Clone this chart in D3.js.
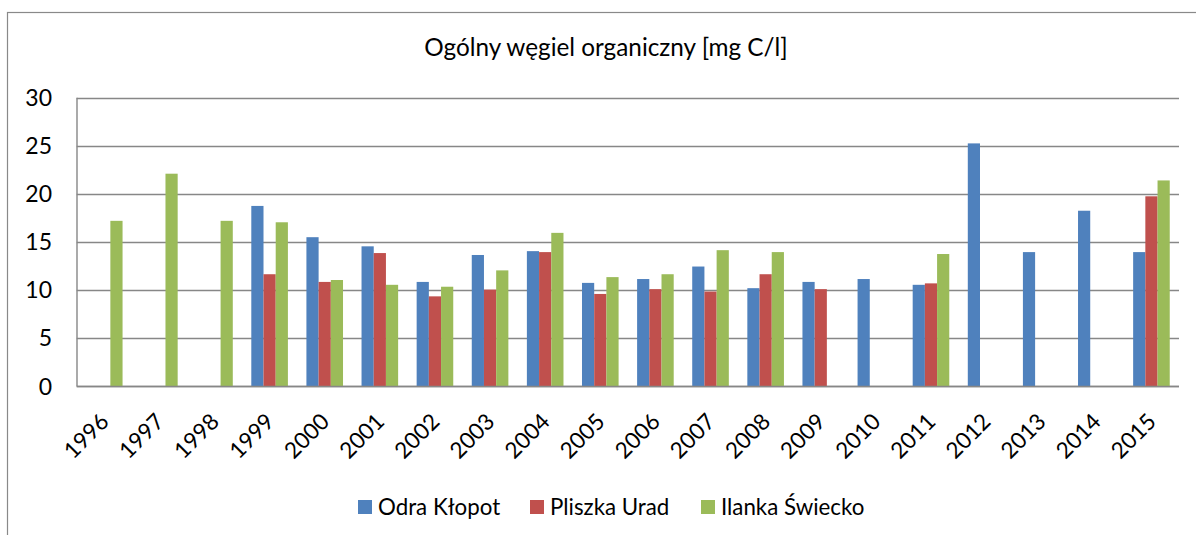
<!DOCTYPE html>
<html><head><meta charset="utf-8">
<script src="https://cdn.jsdelivr.net/npm/d3@7"></script>
<style>body{margin:0;background:#fff}svg{display:block}text{font-family:Lato,"Open Sans",sans-serif;fill:#000}</style>
</head><body><svg id="c" width="1196" height="535"></svg>
<script>
const years = ["1996","1997","1998","1999","2000","2001","2002","2003","2004","2005","2006","2007","2008","2009","2010","2011","2012","2013","2014","2015"];
const seriesNames = ["Odra Kłopot","Pliszka Urad","Ilanka Świecko"];
const odraKlopot = [null,null,null,18.75,15.5,14.55,10.85,13.65,14.05,10.75,11.15,12.45,10.2,10.85,11.15,10.55,25.25,13.95,18.25,13.95];
const pliszkaUrad = [null,null,null,11.65,10.85,13.85,9.35,10.05,13.95,9.6,10.1,9.85,11.65,10.1,null,10.7,null,null,null,19.75];
const ilankaSwiecko = [17.2,22.1,17.2,17.05,11.05,10.55,10.35,12.05,15.95,11.35,11.65,14.15,13.95,null,null,13.75,null,null,null,21.4];
const yTicks = [0,5,10,15,20,25,30];
const title = "Ogólny węgiel organiczny [mg C/l]";
const colors = ["#4F81BD","#C0504D","#9BBB59"];
const seriesData = [odraKlopot, pliszkaUrad, ilankaSwiecko];

const svg = d3.select("#c");
svg.append("rect").attr("x",7.5).attr("y",12.5).attr("width",1300).attr("height",700)
  .attr("fill","none").attr("stroke","#898989").attr("stroke-width",1.2);

const x0 = d3.scaleBand().domain(years).range([76.7,1179]).padding(0);
const groupW = 36.6;
const x1 = d3.scaleBand().domain(seriesNames).range([0,groupW]).padding(0);
const y = d3.scaleLinear().domain([0,30]).range([386.3,97.7]);

svg.append("text").attr("x",606).attr("y",56).attr("text-anchor","middle")
  .style("font-size","24.3px").text(title);

// gridlines
const g = svg.append("g");
g.selectAll("line.grid").data(yTicks).join("line")
  .attr("x1",76.7).attr("x2",1179).attr("y1",d=>Math.round(y(d))+0.5).attr("y2",d=>Math.round(y(d))+0.5)
  .attr("stroke","#878787").attr("stroke-width",1.4);
g.append("line").attr("x1",77).attr("x2",77).attr("y1",y(30)).attr("y2",y(0))
  .attr("stroke","#878787").attr("stroke-width",1.4);

// y labels
svg.selectAll("text.yl").data(yTicks).join("text").attr("class","yl")
  .attr("x",52).attr("y",d=>y(d)).attr("dy","0.36em").attr("text-anchor","end")
  .style("font-size","23px").text(d=>d);

// bars
const bars = svg.append("g");
seriesNames.forEach((s,si)=>{
  const arr = seriesData[si];
  bars.append("g").selectAll("rect").data(years.map((yr,i)=>({yr,v:arr[i]})).filter(d=>d.v!=null)).join("rect")
    .attr("x",d=>x0(d.yr)+(x0.bandwidth()-groupW)/2+x1(s))
    .attr("y",d=>y(d.v)).attr("width",x1.bandwidth()).attr("height",d=>y(0)-y(d.v))
    .attr("fill",colors[si]);
});
svg.append("line").attr("x1",76.7).attr("x2",1179).attr("y1",Math.round(y(0))+0.5).attr("y2",Math.round(y(0))+0.5)
  .attr("stroke","#878787").attr("stroke-width",1.4);

// x labels
svg.selectAll("text.xl").data(years).join("text").attr("class","xl")
  .attr("transform",d=>`translate(${x0(d)+x0.bandwidth()/2+6},${423}) rotate(-45)`)
  .attr("text-anchor","end")
  .style("font-size","22.5px").text(d=>d);

// legend
const legX = [358,530,701];
const leg = svg.append("g");
seriesNames.forEach((s,i)=>{
  leg.append("rect").attr("x",legX[i]).attr("y",500).attr("width",14).attr("height",14).attr("fill",colors[i]);
  leg.append("text").attr("x",legX[i]+20).attr("y",514.5).style("font-size","22.3px").text(s);
});
</script></body></html>
